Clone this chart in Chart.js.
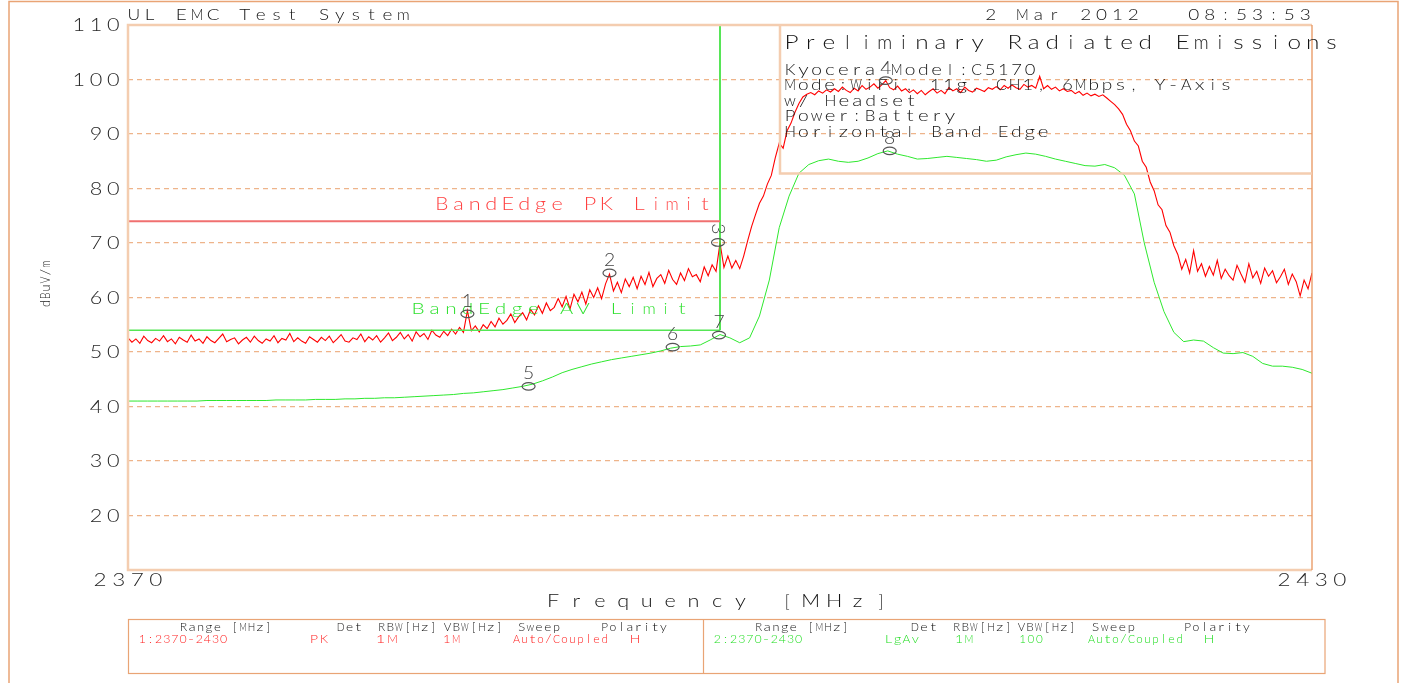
<!DOCTYPE html>
<html><head><meta charset="utf-8">
<script src="https://cdn.jsdelivr.net/npm/chart.js@4.4.1/dist/chart.umd.min.js"></script>
<style>html,body{margin:0;padding:0;background:#fff;overflow:hidden}canvas{display:block}</style>
</head><body>
<canvas id="c" width="1401" height="683"></canvas>
<script>
// ---------------- data ----------------
const sweepStartMHz = 2370;
const sweepStopMHz = 2430;
const pkStepMHz = 0.2;   // trace 1 (PK) sweep points
const pkLevels = [
52.6,51.8,52.4,51.6,52.9,52.1,51.7,52.5,52.0,53.0,
51.9,52.4,51.5,52.7,52.2,51.8,53.1,52.0,52.4,51.6,
52.8,52.1,51.7,52.5,53.3,51.9,52.3,52.6,51.5,52.2,
52.7,51.8,52.9,52.1,51.6,52.4,52.0,53.0,51.7,52.5,
52.2,53.4,51.9,52.6,52.0,51.6,52.8,52.3,51.8,52.7,
52.1,52.9,51.7,52.4,53.2,52.0,51.8,52.6,52.3,53.3,
51.9,52.8,52.2,53.0,51.8,52.6,53.5,52.1,52.7,53.6,
52.4,53.2,52.0,53.7,52.8,53.4,52.3,54.0,53.1,52.7,
53.8,53.0,54.2,53.3,54.5,53.6,57.6,53.9,54.8,53.7,
55.0,54.3,55.6,54.6,56.2,55.1,55.8,57.0,55.4,56.5,
57.2,55.9,57.8,56.8,58.5,57.1,59.0,57.6,58.2,59.8,
58.3,60.2,57.9,60.6,59.2,61.0,58.8,61.4,60.0,61.8,
59.8,62.5,64.3,61.2,62.8,60.9,63.4,62.0,63.7,61.6,
63.9,62.4,64.6,62.0,63.5,64.2,62.6,65.0,63.3,62.4,
64.5,63.1,65.3,63.8,64.2,62.9,65.6,64.0,66.0,64.8,
70.0,65.5,67.6,65.4,66.8,65.3,67.6,70.4,73.0,75.2,
77.3,78.6,80.8,82.4,85.6,88.3,87.4,90.6,92.0,94.0,
95.6,96.8,97.3,97.6,97.2,97.9,97.5,98.1,97.7,98.3,
97.8,98.6,98.0,97.6,98.4,97.9,98.9,98.2,98.6,99.2,
98.4,99.0,99.8,98.5,98.1,98.8,97.9,98.3,97.6,98.1,
97.4,98.0,97.2,97.8,98.3,97.5,98.0,97.4,98.5,97.9,
98.3,97.6,98.6,98.0,97.7,98.4,98.1,97.8,98.5,98.2,
98.7,98.1,98.9,98.4,99.0,98.5,98.2,99.1,98.6,98.9,
98.4,100.6,98.3,98.9,98.2,98.6,97.9,98.3,97.8,98.0,
97.4,97.8,97.1,97.5,97.0,97.3,96.9,97.2,96.6,96.0,
95.4,94.6,93.6,91.8,90.6,88.7,87.8,85.0,83.9,81.2,
79.6,77.0,76.1,73.2,72.0,69.5,67.9,65.2,67.0,64.5,
68.6,64.8,66.2,63.9,65.7,64.1,66.8,63.5,65.2,64.0,
63.2,65.9,64.3,62.8,66.2,63.6,64.8,62.6,65.4,63.9,
64.9,62.7,63.8,65.2,62.4,64.3,62.9,60.3,63.2,61.6,
64.5
];
const avStepMHz = 0.5;   // trace 2 (LgAv) sweep points
const avLevels = [
41.0,41.0,41.0,41.0,41.0,41.0,41.0,41.0,41.1,41.1,
41.1,41.1,41.1,41.1,41.1,41.2,41.2,41.2,41.2,41.3,
41.3,41.3,41.4,41.4,41.5,41.5,41.6,41.6,41.7,41.8,
41.9,42.0,42.1,42.2,42.4,42.5,42.7,42.9,43.1,43.4,
43.7,44.1,44.7,45.4,46.2,46.8,47.3,47.8,48.2,48.6,
48.9,49.2,49.5,49.8,50.2,50.7,51.0,51.1,51.3,52.2,
53.2,52.6,51.7,52.6,56.6,63.2,72.8,78.6,82.8,84.4,
85.1,85.4,85.0,84.8,85.0,85.6,86.4,86.9,86.3,85.9,
85.4,85.5,85.7,85.9,85.7,85.5,85.3,85.0,85.2,85.8,
86.2,86.5,86.3,85.9,85.4,85.0,84.6,84.2,84.1,84.4,
83.8,82.4,79.0,70.0,62.8,57.4,53.6,51.9,52.2,52.0,
50.8,49.8,49.7,49.9,49.2,47.9,47.4,47.4,47.2,46.8,
46.1
];
const limitFreqs = [2370, 2400];
const pkLimitLevels = [74, 74];
const avLimitLevels = [54, 54];
const bandEdgeFreqs = [2400, 2400];
const bandEdgeLevels = [54, 110];
const markerIds = ['1','2','3','4','5','6','7','8'];
const markerFreqs = [2387.2, 2394.4, 2399.9, 2408.4, 2390.3, 2397.6, 2399.95, 2408.6];
const markerLevels = [57.0, 64.5, 70.1, 99.8, 43.7, 50.9, 53.1, 86.9];
const yTickValues = [20, 30, 40, 50, 60, 70, 80, 90, 100, 110];
const xTickValues = [2370, 2430];

// ---------------- text helpers ----------------
const FONT = '"Lato", "DejaVu Sans", sans-serif';
function cells(ctx, text, start, adv, baseline, cap, color) {
  ctx.save();
  ctx.font = `300 ${cap / 0.72}px ${FONT}`;
  ctx.fillStyle = color;
  ctx.textAlign = 'center';
  ctx.textBaseline = 'alphabetic';
  for (let i = 0; i < text.length; i++) {
    const ch = text[i];
    if (ch === ' ') continue;
    const cx = start + (i + 0.5) * adv;
    const w = ctx.measureText(ch).width;
    let s;
    if (w > adv * 0.88) s = (adv * 0.88) / w;
    else if (w < cap * 0.45) s = 1;
    else s = Math.min(1.3, (adv * 0.8) / w);
    ctx.save();
    ctx.translate(cx, baseline);
    ctx.scale(s, 1);
    ctx.fillText(ch, 0, 0);
    ctx.restore();
  }
  ctx.restore();
}
function spanText(ctx, text, x1, x2, baseline, cap, color) {
  const n = text.length;
  const adv = n > 1 ? (x2 - x1) / (n - 0.4) : (x2 - x1) / 0.6;
  cells(ctx, text, x1 - 0.2 * adv, adv, baseline, cap, color);
}

const INK = '#141414';
const RED_T = '#ff1f1f';
const GRN_T = '#22dd22';
const annotations = [
  ['UL EMC Test System', 129, 408, 19.5, 10.5, INK],
  ['2 Mar 2012', 986, 1138, 19.5, 10.5, INK],
  ['08:53:53', 1189, 1310, 19.5, 10.5, INK],
  ['Preliminary Radiated Emissions', 786, 1337, 48.5, 13.5, INK],
  ['Kyocera Model:C5170', 786, 1034, 74.5, 11.5, INK],
  ['Mode:WiFi, 11g, CH1, 6Mbps, Y-Axis', 786, 1230, 90, 11.5, INK],
  ['w/ Headset', 786, 915, 105.5, 11.5, INK],
  ['Power:Battery', 786, 954, 121, 11.5, INK],
  ['Horizontal Band Edge', 786, 1047, 136.5, 11.5, INK],
  ['Frequency [MHz]', 546, 888, 606.5, 12, INK],
  // table left
  ['Range [MHz]', 181, 271, 631, 9, INK],
  ['Det', 338, 361, 631, 9, INK],
  ['RBW[Hz]', 379, 436, 631, 9, INK],
  ['VBW[Hz]', 445, 502, 631, 9, INK],
  ['Sweep', 519, 559, 631, 9, INK],
  ['Polarity', 602, 666, 631, 9, INK],
  ['1:2370-2430', 140, 226, 643, 9, RED_T],
  ['PK', 311, 327, 643, 9, RED_T],
  ['1M', 377, 396, 643, 9, RED_T],
  ['1M', 444, 459, 643, 9, RED_T],
  ['Auto/Coupled', 514, 607, 643, 9, RED_T],
  ['H', 631, 639, 643, 9, RED_T],
  // table right
  ['Range [MHz]', 756, 848, 631, 9, INK],
  ['Det', 912, 936, 631, 9, INK],
  ['RBW[Hz]', 954, 1011, 631, 9, INK],
  ['VBW[Hz]', 1019, 1075, 631, 9, INK],
  ['Sweep', 1093, 1134, 631, 9, INK],
  ['Polarity', 1185, 1249, 631, 9, INK],
  ['2:2370-2430', 715, 801, 643, 9, GRN_T],
  ['LgAv', 886, 918, 643, 9, GRN_T],
  ['1M', 956, 972, 643, 9, GRN_T],
  ['100', 1020, 1042, 643, 9, GRN_T],
  ['Auto/Coupled', 1089, 1182, 643, 9, GRN_T],
  ['H', 1205, 1213, 643, 9, GRN_T]
];

const decor = {
  id: 'decor',
  afterDatasetsDraw(chart) {
    const ctx = chart.ctx;
    const a = chart.chartArea;
    const xs = chart.scales.x, ys = chart.scales.y;
    ctx.save();
    // outer frame
    ctx.strokeStyle = '#e9a475';
    ctx.lineWidth = 1.5;
    ctx.beginPath();
    ctx.moveTo(9, 683); ctx.lineTo(9, 1.5); ctx.lineTo(1398, 1.5); ctx.lineTo(1398, 683);
    ctx.stroke();
    // plot frame
    ctx.strokeStyle = '#f4cdb0';
    ctx.lineWidth = 2.5;
    ctx.beginPath();
    ctx.moveTo(a.right, a.top); ctx.lineTo(a.left, a.top); ctx.lineTo(a.left, a.bottom); ctx.lineTo(a.right, a.bottom);
    ctx.stroke();
    ctx.strokeStyle = '#e8955e';
    ctx.lineWidth = 1.3;
    ctx.beginPath(); ctx.moveTo(a.right, a.top); ctx.lineTo(a.right, a.bottom); ctx.stroke();
    // info box
    ctx.strokeStyle = '#f4cdb0';
    ctx.lineWidth = 2.5;
    ctx.beginPath();
    ctx.moveTo(780, a.top); ctx.lineTo(780, 173.5); ctx.lineTo(a.right, 173.5);
    ctx.stroke();
    // table box
    ctx.strokeStyle = '#e9a475';
    ctx.lineWidth = 1.2;
    ctx.strokeRect(128.5, 619.5, 1196.5, 54);
    ctx.beginPath(); ctx.moveTo(703.5, 619.5); ctx.lineTo(703.5, 673.5); ctx.stroke();
    ctx.restore();

    // y tick labels
    ys.ticks.forEach(t => {
      const py = ys.getPixelForValue(t.value);
      const s = String(t.value);
      const adv = 17.3;
      cells(ctx, s, 122 - s.length * adv, adv, py + 6, 12, '#262626');
    });
    // x tick labels
    xs.ticks.forEach(t => {
      const px = xs.getPixelForValue(t.value);
      const s = String(t.value);
      const adv = 18.6;
      cells(ctx, s, px - s.length * adv / 2, adv, a.bottom + 15.5, 12.5, '#262626');
    });
    // y axis title (rotated)
    ctx.save();
    ctx.translate(50, 0);
    ctx.rotate(-Math.PI / 2);
    spanText(ctx, 'dBuV/m', -306, -262, 0, 10, '#262626');
    ctx.restore();

    // limit labels tied to limit levels
    spanText(ctx, 'BandEdge PK Limit', 437, 710, ys.getPixelForValue(pkLimitLevels[0]) - 11, 12, '#ff4040');
    spanText(ctx, 'BandEdge AV Limit', 413, 687, ys.getPixelForValue(avLimitLevels[0]) - 16.5, 11.5, '#2ee02e');

    annotations.forEach(r => spanText(ctx, r[0], r[1], r[2], r[3], r[4], r[5]));

    // markers
    markerIds.forEach((id, i) => {
      const px = xs.getPixelForValue(markerFreqs[i]);
      const py = ys.getPixelForValue(markerLevels[i]);
      ctx.save();
      ctx.strokeStyle = '#555';
      ctx.lineWidth = 1.2;
      ctx.beginPath();
      ctx.ellipse(px, py, 6.5, 3.8, 0, 0, Math.PI * 2);
      ctx.stroke();
      ctx.restore();
      if (id === '3') {
        ctx.save();
        ctx.translate(px, py - 13.5);
        ctx.rotate(Math.PI / 2);
        cells(ctx, id, -7, 14, 6.5, 13, '#444');
        ctx.restore();
      } else {
        cells(ctx, id, px - 7, 14, py - 7, 13, '#444');
      }
    });
  }
};

const pts = (levels, step) => levels.map((v, i) => ({ x: sweepStartMHz + i * step, y: v }));

const chart = new Chart(document.getElementById('c'), {
  type: 'line',
  data: {
    datasets: [
      { label: 'Bandedge PK Limit', data: limitFreqs.map((f, i) => ({ x: f, y: pkLimitLevels[i] })), borderColor: '#f07070', borderWidth: 2 },
      { label: 'Bandedge AV Limit', data: limitFreqs.map((f, i) => ({ x: f, y: avLimitLevels[i] })), borderColor: '#55e655', borderWidth: 1.5 },
      { label: 'Band edge', data: bandEdgeFreqs.map((f, i) => ({ x: f, y: bandEdgeLevels[i] })), borderColor: '#1fdc1f', borderWidth: 1.5 },
      { label: '2: LgAv', data: pts(avLevels, avStepMHz), borderColor: '#2ee82e', borderWidth: 1 },
      { label: '1: PK', data: pts(pkLevels, pkStepMHz), borderColor: '#ff0000', borderWidth: 1.1 }
    ]
  },
  options: {
    responsive: false,
    animation: false,
    devicePixelRatio: 1,
    layout: { padding: { left: 128, right: 89, top: 25, bottom: 113 } },
    plugins: { legend: { display: false }, tooltip: { enabled: false } },
    elements: { point: { radius: 0 }, line: { tension: 0, fill: false } },
    scales: {
      x: {
        type: 'linear', min: sweepStartMHz, max: sweepStopMHz,
        ticks: { display: false },
        grid: { display: false, drawTicks: false },
        border: { display: false },
        afterBuildTicks(s) { s.ticks = xTickValues.map(v => ({ value: v })); },
        afterFit(s) { s.height = 0; }
      },
      y: {
        type: 'linear', min: 10, max: 110,
        ticks: { display: false },
        grid: {
          drawTicks: false, lineWidth: 1.3,
          color: c => (c.tick && c.tick.value >= 20 && c.tick.value <= 100) ? '#eeb48a' : 'rgba(0,0,0,0)'
        },
        border: { display: false, dash: [5, 4] },
        afterBuildTicks(s) { s.ticks = yTickValues.map(v => ({ value: v })); },
        afterFit(s) { s.width = 0; }
      }
    }
  },
  plugins: [decor]
});
if (document.fonts && document.fonts.ready) document.fonts.ready.then(() => chart.draw());
</script>
</body></html>
